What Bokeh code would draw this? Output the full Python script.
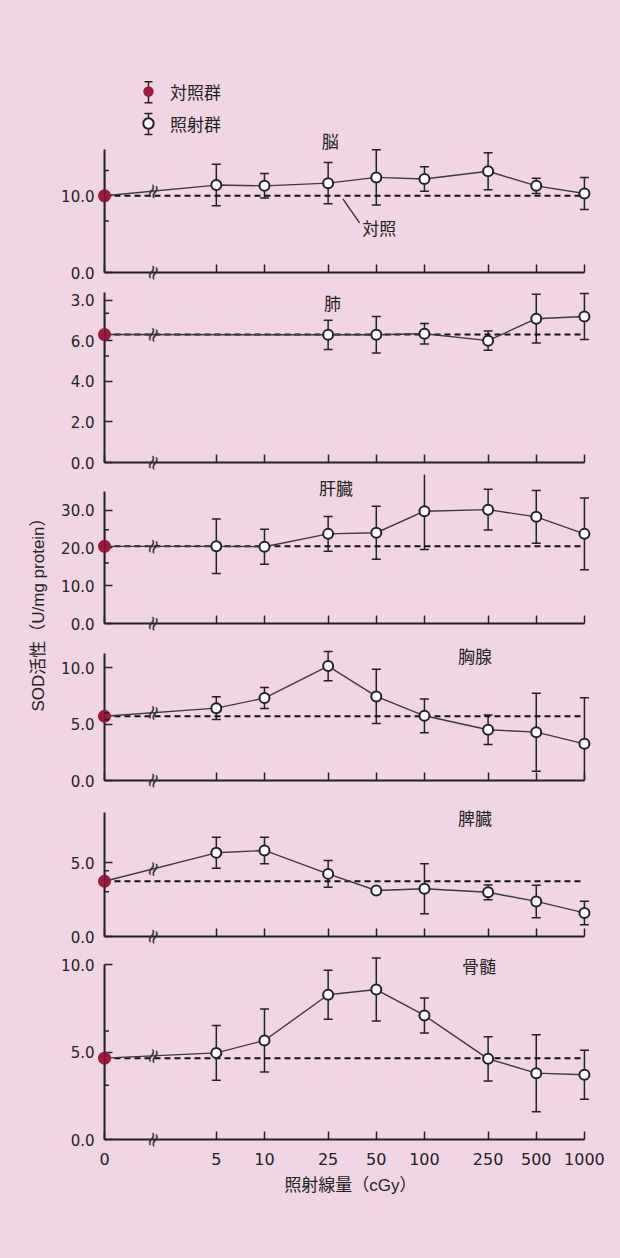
import math
from bokeh.plotting import figure
from bokeh.models import (Range1d, FixedTicker, Whisker, ColumnDataSource, Label,
                          Legend, LegendItem, Arrow, TeeHead)
from bokeh.layouts import row, column
from bokeh.embed import file_html
from bokeh.resources import INLINE
from bokeh.core.properties import value

# ---------------- data ----------------
doses = [5, 10, 25, 50, 100, 250, 500, 1000]          # irradiated groups (cGy)
dose_tick_labels = ["0", "5", "10", "25", "50", "100", "250", "500", "1000"]
control_pos = 1      # dose 0 (control) is drawn at the origin of the log axis
break_pos = 2        # axis break between 0 and 5

organs = ["脳", "肺", "肝臓", "胸腺", "脾臓", "骨髄"]

brain_ctrl, brain_ctrl_err = 10.0, 3.3
brain_mean = [11.4, 11.3, 11.65, 12.4, 12.2, 13.2, 11.3, 10.3]
brain_err = [2.7, 1.6, 2.7, 3.6, 1.6, 2.4, 1.0, 2.1]

lung_ctrl, lung_ctrl_err = 6.3, 1.05
lung_mean = [None, None, 6.29, 6.29, 6.34, 6.0, 7.08, 7.19]
lung_err = [None, None, 0.72, 0.9, 0.5, 0.47, 1.2, 1.13]

liver_ctrl, liver_ctrl_err = 20.4, 4.4
liver_mean = [20.4, 20.3, 23.7, 24.0, 29.7, 30.1, 28.2, 23.7]
liver_err = [7.2, 4.6, 4.6, 7.0, 10.1, 5.4, 7.0, 9.5]

thymus_ctrl, thymus_ctrl_err = 5.7, 0.3
thymus_mean = [6.42, 7.31, 10.15, 7.46, 5.74, 4.5, 4.29, 3.25]
thymus_err = [1.0, 0.93, 1.3, 2.4, 1.5, 1.3, 3.46, 4.1]

spleen_ctrl, spleen_ctrl_err = 3.75, 0.72
spleen_mean = [5.68, 5.84, 4.25, 3.12, 3.24, 3.0, 2.38, 1.6]
spleen_err = [1.05, 0.9, 0.9, 0.15, 1.7, 0.5, 1.1, 0.8]

marrow_ctrl, marrow_ctrl_err = 4.65, 1.55
marrow_mean = [4.95, 5.66, 8.27, 8.57, 7.09, 4.61, 3.79, 3.7]
marrow_err = [1.56, 1.8, 1.4, 1.8, 1.0, 1.26, 2.2, 1.4]

y_ticks = [[0, 10], [0, 2, 4, 6, 8], [0, 10, 20, 30], [0, 5, 10], [0, 5], [0, 5, 10]]
lung_top_label = "3.0"   # the top tick of the lung panel is printed as "3.0"

series = [
    (brain_ctrl, brain_ctrl_err, brain_mean, brain_err),
    (lung_ctrl, lung_ctrl_err, lung_mean, lung_err),
    (liver_ctrl, liver_ctrl_err, liver_mean, liver_err),
    (thymus_ctrl, thymus_ctrl_err, thymus_mean, thymus_err),
    (spleen_ctrl, spleen_ctrl_err, spleen_mean, spleen_err),
    (marrow_ctrl, marrow_ctrl_err, marrow_mean, marrow_err),
]

# ---------------- layout / style ----------------
BG = "#f2d5e5"
INK = "#222222"
LINE = "#3a3a3a"
RED = "#a0173f"
JP = "Noto Sans CJK JP"
MIX = "Liberation Sans, Noto Sans CJK JP"
NUM = "DejaVu Sans"

# height, border_top, frame_height, y_end, axis_top, title_x, title_y
cfg = [
    (283, 70, 202, 26.34, 16.1, 25.8, 17.2),
    (190, 7, 172, 8.47, 8.35, 26.6, 7.9),
    (161, 1, 149, 39.4, 34.9, 28.0, 36.06),
    (157, 6, 140, 12.42, 11.24, 207, 11.09),
    (156, 9, 136, 9.23, 8.44, 207, 8.1),
    (311, 3, 189, 10.8, 10.0, 219, 9.94),
]
TOTAL_H = sum(c[0] for c in cfg)

# legend key placement (brain panel data space)
LEG_X = 1.884
LEG_Y = [23.5, 19.35]
LEG_HALF = 1.37


def whisker(src, level="underlay", size=9):
    return Whisker(source=src, base="x", upper="upper", lower="lower",
                   dimension="height", line_color=INK, line_width=1.5, level=level,
                   upper_head=TeeHead(size=size, line_color=INK, line_width=1.5),
                   lower_head=TeeHead(size=size, line_color=INK, line_width=1.5))


figs = []
for i, (organ, (ctrl, cerr, mean, err), yt, c) in enumerate(zip(organs, series, y_ticks, cfg)):
    h, bt, fh, yend, ytop, tx, ty = c
    bb = h - bt - fh
    last = i == len(organs) - 1
    p = figure(width=568, height=h, x_axis_type="log",
               x_range=Range1d(control_pos, 1190), y_range=Range1d(0, yend),
               min_border_left=52, min_border_right=24, min_border_top=bt, min_border_bottom=bb,
               toolbar_location=None, output_backend="svg",
               background_fill_color=BG, border_fill_color=BG, outline_line_color=None)
    p.xgrid.visible = False
    p.ygrid.visible = False

    # x axis
    xa = p.xaxis[0]
    xa.ticker = FixedTicker(ticks=[control_pos] + doses)
    xa.bounds = (control_pos, doses[-1])
    xa.axis_line_color = INK
    xa.axis_line_width = 2
    xa.major_tick_in = 8
    xa.major_tick_out = 0
    xa.major_tick_line_color = INK
    xa.major_tick_line_width = 1.5
    xa.minor_tick_in = 0
    xa.minor_tick_out = 0
    if last:
        xa.major_label_overrides = {t: s for t, s in zip([control_pos] + doses, dose_tick_labels)}
        xa.major_label_text_font = NUM
        xa.major_label_text_font_size = "16px"
        xa.major_label_text_color = INK
        xa.major_label_standoff = 13
        xa.axis_label = "照射線量（cGy）"
        xa.axis_label_text_font = MIX
        xa.axis_label_text_font_size = "17px"
        xa.axis_label_text_font_style = "normal"
        xa.axis_label_text_color = INK
        xa.axis_label_standoff = 8
    else:
        xa.major_label_overrides = {t: "" for t in [control_pos] + doses}
        xa.major_label_standoff = 0

    # y axis
    ya = p.yaxis[0]
    ya.ticker = FixedTicker(ticks=yt)
    ov = {t: f"{t:.1f}" for t in yt}
    if organ == "肺":
        ov[yt[-1]] = lung_top_label
    ya.major_label_overrides = ov
    ya.bounds = (0, ytop)
    ya.axis_line_color = INK
    ya.axis_line_width = 2
    ya.major_tick_in = 8
    ya.major_tick_out = 0
    ya.major_tick_line_color = INK
    ya.major_tick_line_width = 1.5
    ya.minor_tick_in = 0
    ya.minor_tick_out = 0
    ya.major_label_text_font = NUM
    ya.major_label_text_font_size = "15px"
    ya.major_label_text_color = INK
    ya.major_label_standoff = 10

    xs = [d for d, m in zip(doses, mean) if m is not None]
    ms = [m for m in mean if m is not None]
    es = [e for e in err if e is not None]

    # control reference (dashed)
    p.line([control_pos, doses[-1]], [ctrl, ctrl], line_color="#111111", line_width=2,
           line_dash="6 4")

    # irradiated series line (starting from control)
    p.line([control_pos] + xs, [ctrl] + ms, line_color=LINE, line_width=1.4)

    # error bars
    src = ColumnDataSource(dict(x=xs, upper=[m + e for m, e in zip(ms, es)],
                                lower=[m - e for m, e in zip(ms, es)]))
    p.add_layout(whisker(src))
    csrc = ColumnDataSource(dict(x=[control_pos], upper=[ctrl + cerr], lower=[ctrl - cerr]))
    p.add_layout(whisker(csrc, level="overlay"))

    treat_r = p.scatter(xs, ms, marker="circle", size=10, fill_color="white",
                        line_color=INK, line_width=2)
    ctrl_r = p.scatter([control_pos], [ctrl], marker="circle", size=13, fill_color=RED,
                       line_color=None, level="overlay")

    # axis-break marks
    frac = math.log10(break_pos / control_pos) / math.log10(xs[0] / control_pos)
    by = ctrl + (ms[0] - ctrl) * frac
    p.text(x=[break_pos, break_pos], y=[by, 0], text=["≈", "≈"], angle=1.22,
           text_font=value(NUM), text_font_size="20px", text_align="center",
           text_baseline="middle", text_color="#333333", level="overlay")

    # panel title
    p.add_layout(Label(x=tx, y=ty, text=organ, text_align="center", text_baseline="middle",
                       text_font=JP, text_font_size="17px", text_color=INK))

    if i == 0:
        # "対照" callout
        p.add_layout(Arrow(x_start=30.9, y_start=9.6, x_end=39.3, y_end=6.48, end=None,
                           line_color=INK, line_width=1.2))
        p.add_layout(Label(x=40.9, y=5.9, text="対照", text_align="left",
                           text_baseline="middle", text_font=JP,
                           text_font_size="17px", text_color=INK))
        # legend key error bars
        lsrc = ColumnDataSource(dict(x=[LEG_X, LEG_X],
                                     upper=[y + LEG_HALF for y in LEG_Y],
                                     lower=[y - LEG_HALF for y in LEG_Y]))
        p.add_layout(whisker(lsrc, level="annotation", size=8))
        legend = Legend(items=[LegendItem(label="対照群", renderers=[ctrl_r]),
                               LegendItem(label="照射群", renderers=[treat_r])],
                        location=(31, 136), orientation="vertical",
                        glyph_width=26, glyph_height=26, label_height=26,
                        label_standoff=9, spacing=6, padding=0, margin=0,
                        background_fill_alpha=0, border_line_color=None,
                        label_text_font=JP, label_text_font_size="17px",
                        label_text_color=INK, click_policy="none")
        p.add_layout(legend)
    figs.append(p)

# y-axis title column
yl = figure(width=52, height=TOTAL_H, x_range=Range1d(0, 1),
            y_range=Range1d(0, 1), min_border=0, toolbar_location=None,
            output_backend="svg", background_fill_color=BG, border_fill_color=BG,
            outline_line_color=None, x_axis_location=None, y_axis_location=None)
yl.xgrid.visible = False
yl.ygrid.visible = False
yl.add_layout(Label(x=38.3 / 52, y=1 - 610 / TOTAL_H, angle=math.pi / 2,
                    text="SOD活性（U/mg protein）", text_align="center",
                    text_baseline="middle", text_font=MIX,
                    text_font_size="17px", text_color=INK))

layout = row(yl, column(*figs, spacing=0), spacing=0)

html = file_html(layout, INLINE)
html = html.replace("</head>",
                    "<style>html, body { background-color: %s !important; }</style></head>" % BG, 1)
open("out.html", "w").write(html)
